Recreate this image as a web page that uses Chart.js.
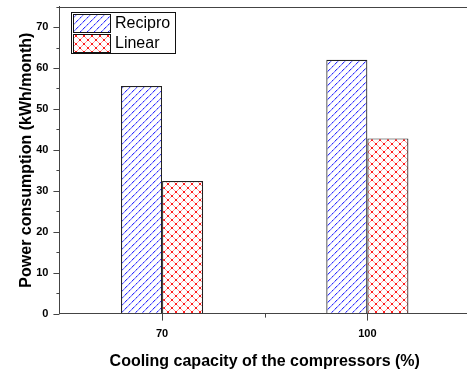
<!DOCTYPE html>
<html>
<head>
<meta charset="utf-8">
<script src="https://cdn.jsdelivr.net/npm/chart.js@4.4.1/dist/chart.umd.min.js"></script>
<style>
  html, body { margin: 0; padding: 0; background: #fff; overflow: hidden; }
  #wrap { width: 472px; height: 372px; }
</style>
</head>
<body>
<div id="wrap"><canvas id="chart"></canvas></div>
<script>
//Categories and values
const categories = ["70", "100"];
const reciproValues = [55.6, 62.0];
const linearValues = [32.4, 42.8];
const yTicks = [0, 10, 20, 30, 40, 50, 60, 70];

const FONT = "'Liberation Sans', Arial, sans-serif";

//Hatch pattern "/" in blue, drawn pixel by pixel
function makeDiagonal() {
  const n = 7;
  const c = document.createElement("canvas");
  c.width = n;
  c.height = n;
  const g = c.getContext("2d");
  g.fillStyle = "#ffffff";
  g.fillRect(0, 0, n, n);
  for (let i = 0; i < n; i++) {
    g.fillStyle = "#d2d2ff";
    g.fillRect(i, (n - i) % n, 1, 1);
    g.fillStyle = i % 3 === 0 ? "#2c2cff" : "#8484ff";
    g.fillRect(i, n - 1 - i, 1, 1);
  }
  return g.createPattern(c, "repeat");
}

//Cross hatch pattern in red with dots at crossings
function makeCross() {
  const n = 8;
  const c = document.createElement("canvas");
  c.width = n;
  c.height = n;
  const g = c.getContext("2d");
  g.fillStyle = "#ffffff";
  g.fillRect(0, 0, n, n);
  for (let i = 0; i < n; i++) {
    g.fillStyle = "#ff9494";
    g.fillRect(i, i, 1, 1);
    g.fillRect(i, n - 1 - i, 1, 1);
  }
  g.fillStyle = "#ff1c1c";
  g.fillRect(3, 3, 2, 2);
  g.fillRect(0, 0, 1, 1);
  g.fillRect(n - 1, n - 1, 1, 1);
  g.fillRect(0, n - 1, 1, 1);
  g.fillRect(n - 1, 0, 1, 1);
  return g.createPattern(c, "repeat");
}

const reciproFill = makeDiagonal();
const linearFill = makeCross();

//Y ticks (major + minor), top frame line and legend box inside the plot
const extras = {
  id: "extras",
  afterDraw(chart) {
    const ctx = chart.ctx;
    const area = chart.chartArea;
    const y = chart.scales.y;
    const x = chart.scales.x;
    ctx.save();
    ctx.strokeStyle = "#444";
    ctx.lineWidth = 1;
    ctx.beginPath();
    //top frame
    ctx.moveTo(area.left, Math.round(area.top) + 0.5);
    ctx.lineTo(chart.width, Math.round(area.top) + 0.5);
    //y ticks: long on labelled values, short in between
    for (let v = 0; v <= y.max; v += 5) {
      const len = v % 10 === 0 ? 6 : 3;
      const py = Math.round(y.getPixelForValue(v)) + 0.5;
      ctx.moveTo(area.left - len, py);
      ctx.lineTo(area.left, py);
    }
    //minor x tick between the groups
    const px = Math.round(x.getPixelForValue(0.5)) + 0.5;
    ctx.moveTo(px, area.bottom);
    ctx.lineTo(px, area.bottom + 4);
    ctx.stroke();

    //legend
    const lx = Math.round(area.left + 12);
    const ly = Math.round(area.top + 5);
    ctx.fillStyle = "#fff";
    ctx.fillRect(lx, ly, 104, 41);
    ctx.strokeStyle = "#111";
    ctx.strokeRect(lx + 0.5, ly + 0.5, 104, 41);
    ctx.font = "16px " + FONT;
    ctx.textBaseline = "middle";
    chart.data.datasets.forEach((ds, i) => {
      const sy = ly + 2 + i * 20;
      ctx.fillStyle = ds.backgroundColor;
      ctx.fillRect(lx + 2, sy, 37, 18);
      ctx.strokeStyle = "#111";
      ctx.strokeRect(lx + 2.5, sy + 0.5, 37, 18);
      ctx.fillStyle = "#000";
      ctx.fillText(ds.label, lx + 44, sy + 9.5);
    });
    ctx.restore();
  },
};

let myChart = new Chart(document.getElementById("chart"), {
  type: "bar",
  plugins: [extras],
  data: {
    labels: categories,
    datasets: [
      {
        label: "Recipro",
        data: reciproValues,
        backgroundColor: reciproFill,
        borderColor: "#222",
        borderWidth: 1.2,
        categoryPercentage: 0.4,
        barPercentage: 1.0,
      },
      {
        label: "Linear",
        data: linearValues,
        backgroundColor: linearFill,
        borderColor: "#222",
        borderWidth: 1.2,
        categoryPercentage: 0.4,
        barPercentage: 1.0,
      },
    ],
  },
  options: {
    responsive: true,
    maintainAspectRatio: false,
    animation: false,
    layout: { padding: { top: 0, right: 2, left: 17, bottom: 1 } },
    plugins: {
      legend: { display: false },
      tooltip: { enabled: false },
    },
    scales: {
      x: {
        grid: {
          offset: false,
          drawOnChartArea: false,
          tickLength: 7,
          color: "#444",
        },
        border: { color: "#444", width: 1 },
        ticks: {
          color: "#000",
          font: { family: FONT, size: 11, weight: "bold" },
          padding: 7,
        },
        title: {
          display: true,
          text: "Cooling capacity of the compressors (%)",
          color: "#000",
          font: { family: FONT, size: 16, weight: "bold" },
          padding: { top: 4, bottom: 0 },
        },
      },
      y: {
        min: 0,
        max: 75,
        afterBuildTicks: (scale) => {
          scale.ticks = yTicks.map((v) => ({ value: v }));
        },
        grid: {
          drawOnChartArea: false,
          tickLength: 11,
          tickColor: "rgba(0,0,0,0)",
        },
        border: { color: "#444", width: 1 },
        ticks: {
          color: "#000",
          font: { family: FONT, size: 11, weight: "bold" },
          padding: 0,
        },
        title: {
          display: true,
          text: "Power consumption (kWh/month)",
          color: "#000",
          font: { family: FONT, size: 16, weight: "bold" },
          padding: { top: 0, bottom: 0 },
        },
      },
    },
  },
});
</script>
</body>
</html>
